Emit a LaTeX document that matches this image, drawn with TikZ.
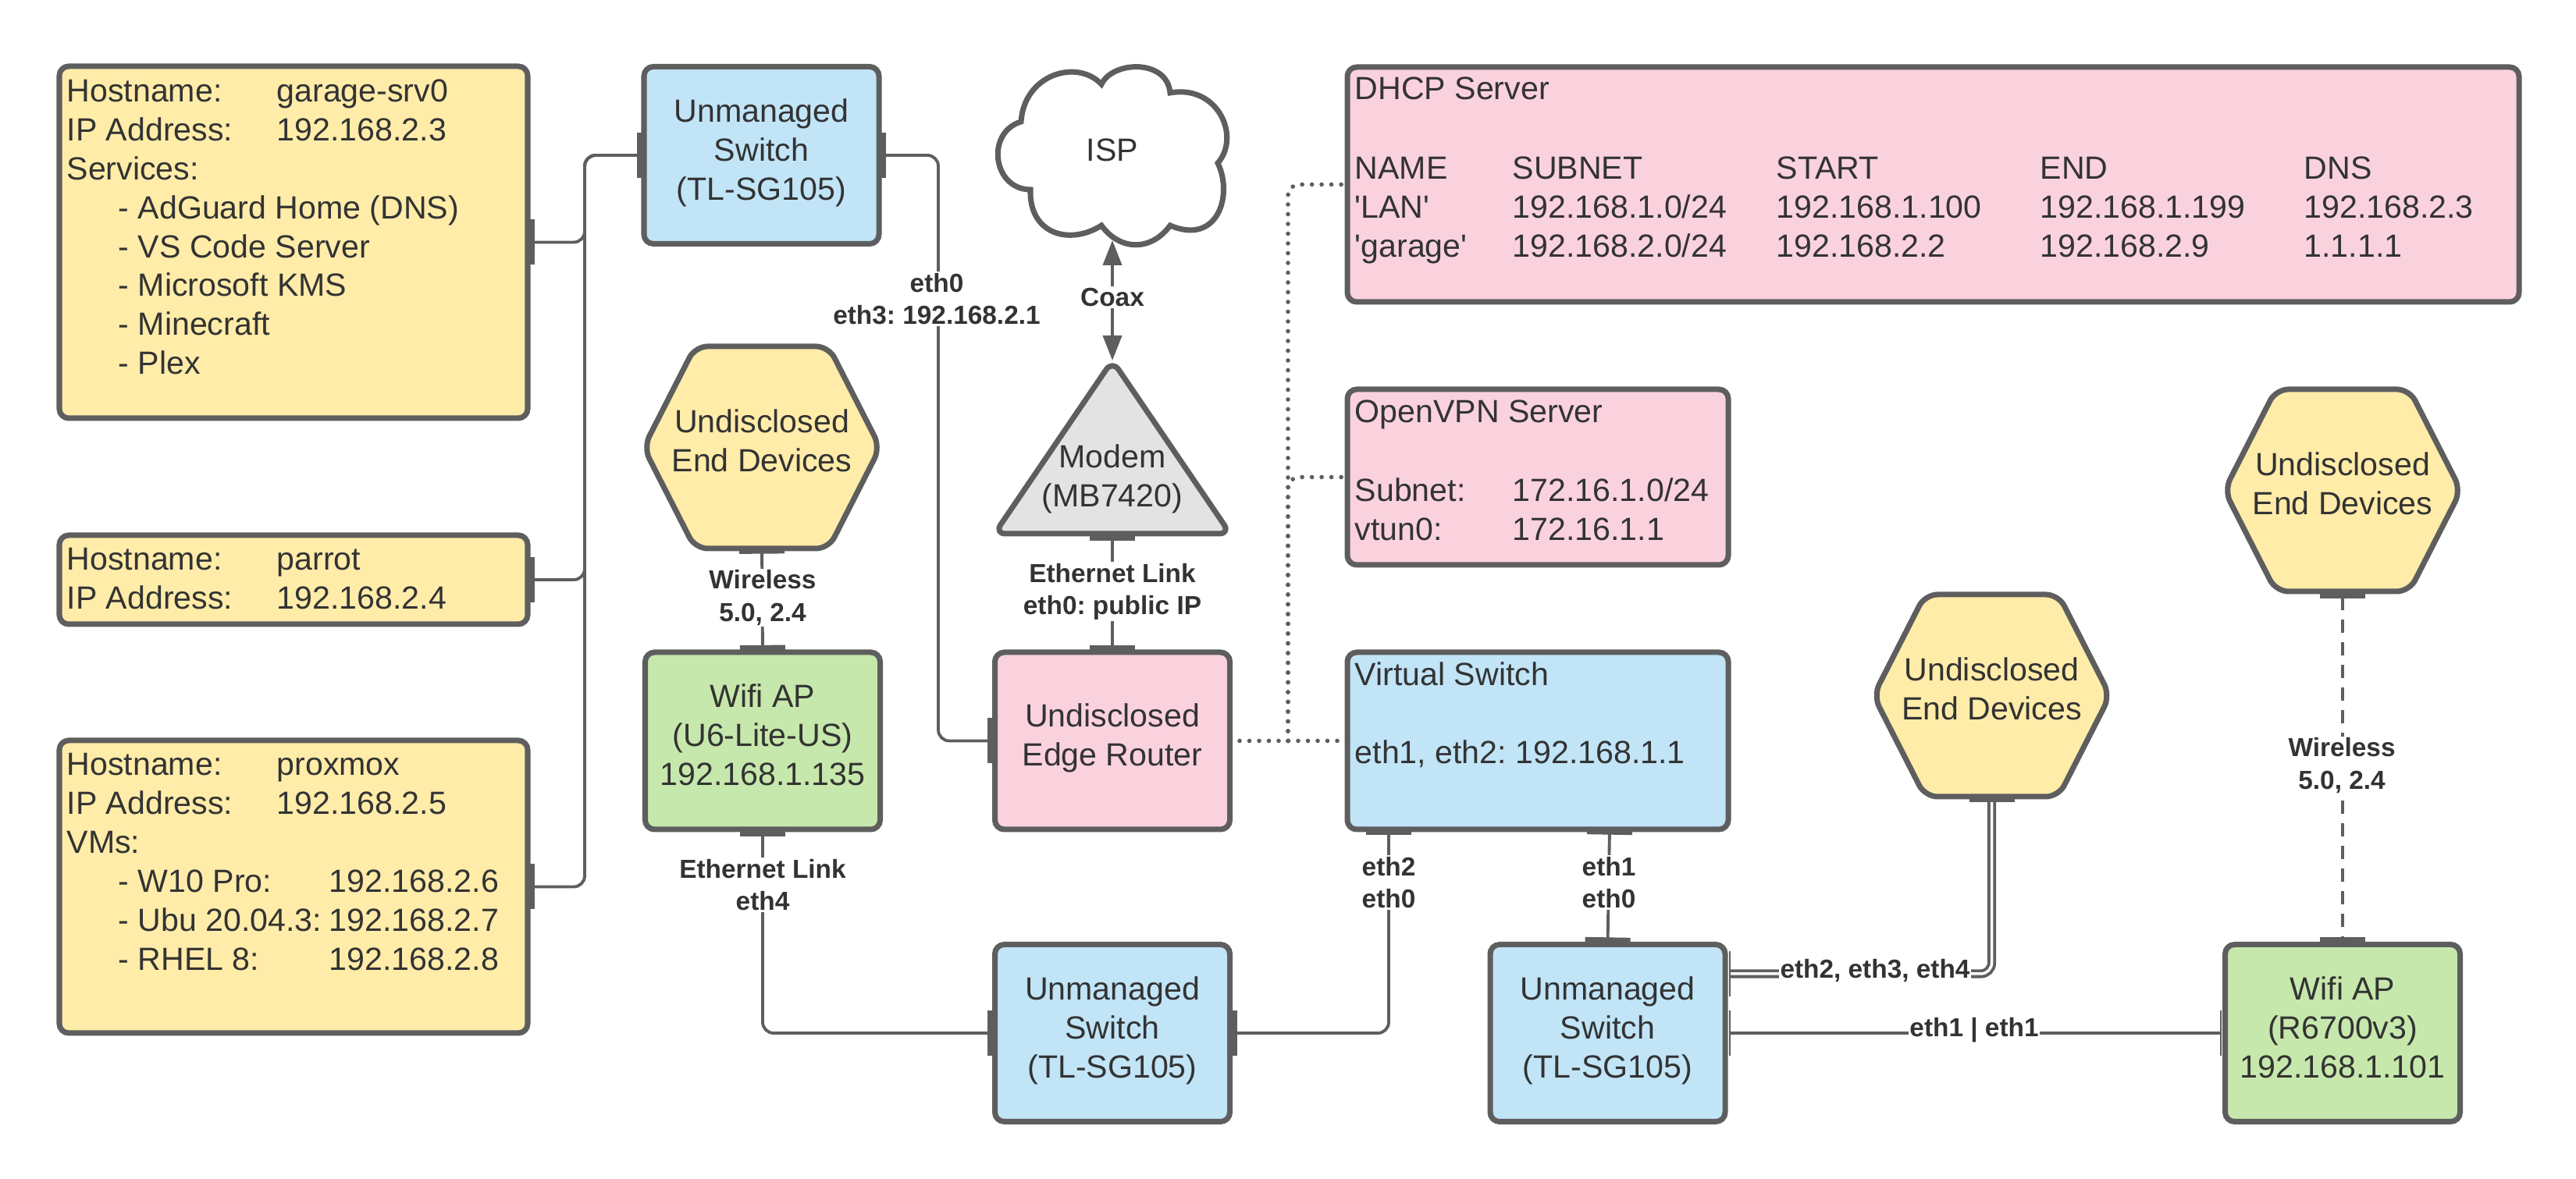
\documentclass[tikz,border=0pt]{standalone}
\usepackage{fontspec}
\setmainfont{Liberation Sans}
\newfontfamily\straightquote{Liberation Sans}
\usepackage{tikz}
\usetikzlibrary{arrows.meta}

\definecolor{linegrey}{HTML}{5E5E5E}
\definecolor{textgrey}{HTML}{333333}
\definecolor{hostyellow}{HTML}{FFECA9}
\definecolor{switchblue}{HTML}{C1E4F7}
\definecolor{routerpink}{HTML}{FAD2DE}
\definecolor{wifigreen}{HTML}{C7E8AC}
\definecolor{modemgrey}{HTML}{E3E3E3}

\newcommand{\hostrow}[2]{\makebox[2.69cm][l]{#1}#2}
\newcommand{\vmrow}[2]{\hspace*{0.66cm}\makebox[2.70cm][l]{- #1}#2}
\newcommand{\dhcprow}[5]{\makebox[2.02cm][l]{#1}\makebox[3.38cm][l]{#2}\makebox[3.38cm][l]{#3}\makebox[3.38cm][l]{#4}#5}

\tikzset{
  porttip/.tip={Bar[width=0.58cm,line width=2.6pt]},
  thintip/.tip={Bar[width=0.58cm,line width=1.9pt]},
  slivertip/.tip={Bar[width=0.58cm,line width=0.6pt]},
  cointip/.tip={Triangle[width=0.24cm,length=0.32cm]},
  boxbase/.style={draw=linegrey,line width=2pt,rounded corners=0.12cm,outer sep=0pt,
    text=textgrey,align=center,font=\fontsize{11.7}{14.2}\selectfont,
    execute at begin node=\strut,execute at end node=\strut},
  hostbox/.style={boxbase,fill=hostyellow},
  switchbox/.style={boxbase,fill=switchblue,minimum width=3.01cm,minimum height=2.27cm},
  pinkbox/.style={boxbase,fill=routerpink},
  wifibox/.style={boxbase,fill=wifigreen,minimum width=3.01cm,minimum height=2.27cm},
  hexframe/.style={minimum width=3.03cm,minimum height=2.59cm,outer sep=0pt,inner sep=0pt},
  hexline/.style={draw=linegrey,line width=2pt,fill=hostyellow,rounded corners=0.16cm},
  innertext/.style={anchor=north west,inner xsep=0.09cm,inner ysep=0.16cm,align=left,
    text=textgrey,font=\fontsize{11.7}{14.2}\selectfont},
  plaintext/.style={align=center,text=textgrey,outer sep=0pt,font=\fontsize{11.7}{14.2}\selectfont},
  linktext/.style={fill=white,inner sep=0.5pt,align=center,text=textgrey,
    font=\fontsize{9.5}{11.7}\selectfont\bfseries},
  link/.style={draw=linegrey,line width=1.1pt,rounded corners=0.14cm},
  dotlink/.style={draw=linegrey,line width=1.6pt,line cap=round,dash pattern=on 0pt off 0.125cm,rounded corners=0.14cm},
}

\begin{document}
\frenchspacing
\begin{tikzpicture}

  \useasboundingbox (0,0) rectangle (33,15.11);

  % hosts
  \node [hostbox,minimum width=6cm,minimum height=4.51cm] (garage)  at (3.76, 12.005) {};
  \node [hostbox,minimum width=6cm,minimum height=1.14cm] (parrot)  at (3.76, 7.68)   {};
  \node [hostbox,minimum width=6cm,minimum height=3.75cm] (proxmox) at (3.76, 3.745)  {};

  \node [innertext] (garagetext) at (garage.north west) {\hostrow{Hostname:}{garage-srv0}\\
    \hostrow{IP Address:}{192.168.2.3}\\ Services:\\
    \hspace*{0.66cm}- AdGuard Home (DNS)\\ \hspace*{0.66cm}- VS Code Server\\
    \hspace*{0.66cm}- Microsoft KMS\\ \hspace*{0.66cm}- Minecraft\\ \hspace*{0.66cm}- Plex};
  \node [innertext] (parrottext) at (parrot.north west) {\hostrow{Hostname:}{parrot}\\
    \hostrow{IP Address:}{192.168.2.4}};
  \node [innertext] (proxmoxtext) at (proxmox.north west) {\hostrow{Hostname:}{proxmox}\\
    \hostrow{IP Address:}{192.168.2.5}\\ VMs:\\
    \vmrow{W10 Pro:}{192.168.2.6}\\ \vmrow{Ubu 20.04.3:}{192.168.2.7}\\ \vmrow{RHEL 8:}{192.168.2.8}};

  % switches
  \node [switchbox] (swtop) at (9.755,  13.12) {Unmanaged\\Switch\\(TL-SG105)};
  \node [switchbox] (swmid) at (14.25,  1.87)  {Unmanaged\\Switch\\(TL-SG105)};
  \node [switchbox] (swlow) at (20.595, 1.87)  {Unmanaged\\Switch\\(TL-SG105)};

  % access points
  \node [wifibox] (wifia) at (9.77,  5.615) {Wifi AP\\(U6-Lite-US)\\192.168.1.135};
  \node [wifibox] (wifib) at (30.01, 1.87)  {Wifi AP\\(R6700v3)\\192.168.1.101};

  % end devices
  \foreach \name/\xpos/\ypos in {hexa/9.76/9.375,hexb/25.515/6.195,hexc/30.01/8.825} {
    \node [hexframe] (\name) at (\xpos, \ypos) {};
    \draw [hexline] ([xshift=0.66cm]\name.north west) -- ([xshift=-0.66cm]\name.north east) -- (\name.east)
      -- ([xshift=-0.66cm]\name.south east) -- ([xshift=0.66cm]\name.south west) -- (\name.west) -- cycle;
    \node [plaintext] (\name text) at (\xpos, \ypos+0.09) {Undisclosed\\End Devices};
  }

  % router and its services
  \node [pinkbox,minimum width=3.01cm,minimum height=2.27cm] (router) at (14.25, 5.615) {Undisclosed\\Edge Router};
  \node [pinkbox,minimum width=15.01cm,minimum height=3.01cm] (dhcp)  at (24.765, 12.745) {};
  \node [pinkbox,minimum width=4.88cm,minimum height=2.25cm]  (vpn)   at (19.70,  8.995)  {};
  \node [boxbase,fill=switchblue,minimum width=4.88cm,minimum height=2.27cm] (vsw) at (19.70, 5.615) {};

  \node [innertext,inner ysep=0.12cm] (dhcptext) at (dhcp.north west) {DHCP Server\\[14.8pt]
    \dhcprow{NAME}{SUBNET}{START}{END}{DNS}\\
    \dhcprow{\straightquote'LAN'}{192.168.1.0/24}{192.168.1.100}{192.168.1.199}{192.168.2.3}\\
    \dhcprow{\straightquote'garage'}{192.168.2.0/24}{192.168.2.2}{192.168.2.9}{1.1.1.1}};
  \node [innertext,inner ysep=0.13cm] (vpntext) at (vpn.north west) {OpenVPN Server\\[14.6pt]
    \makebox[2.02cm][l]{Subnet:}172.16.1.0/24\\ \makebox[2.02cm][l]{vtun0:}172.16.1.1};
  \node [innertext,inner ysep=0.12cm] (vswtext) at (vsw.north west) {Virtual Switch\\[14.4pt] eth1, eth2: 192.168.1.1};

  % cloud
  \node [plaintext,minimum width=3.01cm,minimum height=2.26cm] (isp) at (14.25, 13.16) {};
  \draw [draw=linegrey,line width=2pt,fill=white]
    (13.08,13.55) .. controls (13.12,14.16) and (13.80,14.36) .. (14.11,14.03)
                  .. controls (14.25,14.33) and (14.95,14.36) .. (14.99,13.92)
                  .. controls (15.60,14.03) and (15.90,13.36) .. (15.60,13.02)
                  .. controls (15.80,12.61) and (15.60,11.96) .. (14.99,12.22)
                  .. controls (14.75,11.89) and (14.35,11.89) .. (14.11,12.22)
                  .. controls (13.70,11.96) and (13.18,12.11) .. (13.20,12.68)
                  .. controls (12.72,12.68) and (12.62,13.41) .. (13.08,13.55) -- cycle;
  \node [plaintext] (isptext) at (14.25, 13.19) {ISP};

  % modem
  \node [minimum width=3.02cm,minimum height=2.22cm,outer sep=0pt,inner sep=0pt] (modem) at (14.25, 9.38) {};
  \draw [draw=linegrey,line width=2pt,fill=modemgrey,rounded corners=0.14cm,line join=round]
    (modem.north) -- (modem.south west) -- (modem.south east) -- cycle;
  \node [plaintext] (modemtext) at (14.25, 8.97) {Modem\\(MB7420)};

  % connectors
  \coordinate (hostbus)  at (7.49,  13.12);
  \coordinate (uplink)   at (12.02, 13.12);
  \coordinate (dottrunk) at (16.50, 5.615);
  \coordinate (vswa)     at (17.79, 4.48);
  \coordinate (vswb)     at (20.62, 4.48);
  \coordinate (swlowa)   at (22.15, 2.63);
  \coordinate (swlowb)   at (22.15, 1.87);
  \coordinate (wifibw)   at (28.46, 1.87);

  \foreach \host in {garage,parrot,proxmox}
    \draw [link,arrows=porttip-porttip] (\host.east) -| (hostbus) -- (swtop.west);

  \draw [link,arrows=porttip-porttip] (swtop.east) -- (uplink) |- (router.west);
  \draw [link,arrows=porttip-porttip] (modem.south) -- (router.north);
  \draw [link,arrows=thintip-porttip] (hexa.south) -- (wifia.north);
  \draw [link,arrows=porttip-porttip] (wifia.south) |- (swmid.west);
  \draw [link,arrows=thintip-porttip] (vswa) |- (swmid.east);
  \draw [link,arrows=thintip-porttip] (vswb) -- (swlow.north);
  \draw [link,arrows=slivertip-slivertip] (swlowb) -- (wifibw);
  \draw [link,arrows=slivertip-thintip,double=white,double distance=1pt] (swlowa) -| (hexb.south);
  \draw [link,arrows=porttip-porttip,dash pattern=on 0.17cm off 0.12cm] (hexc.south) -- (wifib.north);
  \draw [line width=1.1pt,draw=linegrey,arrows=cointip-cointip] (isp.south) -- (modem.north);

  % dotted links to the services
  \draw [dotlink] (router.east) -- (vsw.west);
  \draw [dotlink] (dottrunk) |- (dhcp.west);
  \draw [dotlink] (dottrunk) |- (vpn.west);

  % link labels
  \node [linktext] (lblcoax)   at (14.25, 11.30) {Coax};
  \node [linktext] (lbluplink) at (12.00, 11.28) {eth0\\eth3: 192.168.2.1};
  \node [linktext] (lblmodem)  at (14.25, 7.53)  {Ethernet Link\\eth0: public IP};
  \node [linktext] (lblwifia)  at (9.77,  7.45)  {Wireless\\5.0, 2.4};
  \node [linktext] (lbleth)    at (9.77,  3.77)  {Ethernet Link\\eth4};
  \node [linktext] (lblvswa)   at (17.79, 3.80)  {eth2\\eth0};
  \node [linktext] (lblvswb)   at (20.61, 3.80)  {eth1\\eth0};
  \node [linktext] (lbldouble) at (24.02, 2.67)  {eth2, eth3, eth4};
  \node [linktext] (lblsingle) at (25.29, 1.91)  {eth1 | eth1};
  \node [linktext] (lblwifib)  at (30.00, 5.30)  {Wireless\\5.0, 2.4};

\end{tikzpicture}
\end{document}
